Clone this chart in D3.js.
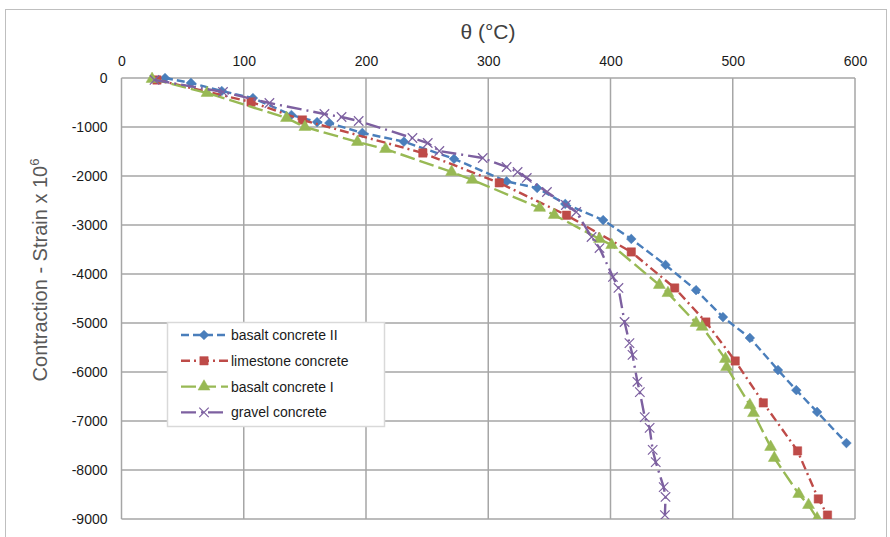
<!DOCTYPE html>
<html>
<head>
<meta charset="utf-8">
<script src="https://cdn.jsdelivr.net/npm/d3@7"></script>
<style>
  body { margin: 0; background: #fff; }
  svg { font-family: "Liberation Sans", Arial, sans-serif; }
</style>
</head>
<body>
<div id="chart"></div>
<script>
// values (temperature °C, strain x 10^6)
var basalt2 = [[35.6,0],[56.8,-100],[82,-265],[107.5,-410],[139,-755],[160,-900],[170,-920],[197,-1120],
  [231,-1300],[272,-1650],[315,-2110],[340,-2245],[363,-2570],[394,-2900],[417,-3285],[445,-3815],
  [470,-4330],[492,-4880],[514,-5305],[537,-5960],[552,-6370],[569,-6815],[593,-7450]];
var limestone = [[29,-40],[106,-490],[148,-857],[246.5,-1530],[309,-2140],[364,-2800],[417,-3550],
  [452.5,-4285],[478,-4980],[502,-5775],[525,-6630],[553,-7610],[570,-8590],[577.5,-8920]];
var basalt1 = [[25,-20],[70,-306],[135,-816],[150,-1000],[193,-1306],[216,-1450],[270,-1918],[287,-2080],
  [342,-2650],[354,-2795],[391,-3285],[401,-3410],[440,-4225],[447,-4390],[470,-5000],[475,-5080],
  [494,-5735],[495,-5900],[514,-6675],[517,-6840],[531,-7530],[534,-7755],[554,-8490],[562,-8715],[569,-8990]];
var gravel = [[27,-40],[83,-285],[121,-510],[166,-735],[180,-796],[194,-878],[238,-1225],[250.5,-1327],
  [260,-1490],[295.5,-1633],[315,-1816],[324,-1918],[331.5,-2040],[348,-2327],[363.5,-2592],[372,-2735],
  [384.5,-3245],[391,-3470],[402,-4060],[406.5,-4285],[411.5,-4980],[415.5,-5410],[418,-5650],[422,-6200],
  [424,-6410],[428,-6920],[432,-7140],[434.5,-7590],[437,-7840],[443.5,-8350],[445,-8550],[444.5,-8920]];

var xTicks = [0, 100, 200, 300, 400, 500, 600];
var yTicks = [0, -1000, -2000, -3000, -4000, -5000, -6000, -7000, -8000, -9000];

var series = [
  {name: "basalt concrete II", data: basalt2, color: "#4a7ebb", dash: "8,4", marker: "diamond"},
  {name: "limestone concrete", data: limestone, color: "#be4b48", dash: "9,4,2,4", marker: "square"},
  {name: "basalt concrete I", data: basalt1, color: "#98b954", dash: "15,5", marker: "triangle"},
  {name: "gravel concrete", data: gravel, color: "#7d60a0", dash: "15,5,2,5", marker: "cross"}
];

var width = 890, height = 537;
var plotLeft = 121.5, plotRight = 855, plotTop = 78, plotBottom = 519;

var svg = d3.select("#chart").append("svg")
    .attr("width", width)
    .attr("height", height);

// outer chart frame
svg.append("rect")
    .attr("x", 5.5).attr("y", 9.5)
    .attr("width", 881).attr("height", 540)
    .attr("fill", "none").attr("stroke", "#bfbfbf").attr("stroke-width", 1);

var x = d3.scaleLinear().domain([0, 600]).range([plotLeft, plotRight]);
var y = d3.scaleLinear().domain([-9000, 0]).range([plotBottom, plotTop]);

// gridlines
var grid = svg.append("g").attr("stroke", "#a6a6a6").attr("stroke-width", 1.5);
grid.selectAll("line.v").data(xTicks).enter().append("line")
    .attr("x1", function(d) { return x(d); }).attr("x2", function(d) { return x(d); })
    .attr("y1", plotTop).attr("y2", plotBottom);
grid.selectAll("line.h").data(yTicks).enter().append("line")
    .attr("y1", function(d) { return y(d); }).attr("y2", function(d) { return y(d); })
    .attr("x1", plotLeft).attr("x2", plotRight);

// plain hyphen minus like the original, not the unicode one
var fmt = function(d) { return String(d); };

// axes (labels only, the grid does the lines)
var xAxis = svg.append("g")
    .attr("transform", "translate(0," + (plotTop - 12) + ")")
    .call(d3.axisTop(x).tickValues(xTicks).tickSize(0).tickPadding(0).tickFormat(fmt));
var yAxis = svg.append("g")
    .attr("transform", "translate(" + (plotLeft - 14) + ",0)")
    .call(d3.axisLeft(y).tickValues(yTicks).tickSize(0).tickPadding(0).tickFormat(fmt));
[xAxis, yAxis].forEach(function(a) {
  a.select(".domain").remove();
  a.selectAll("text").attr("font-size", 14).attr("fill", "#1a1a1a")
    .attr("font-family", "Liberation Sans, Arial, sans-serif");
});

svg.append("text")
    .attr("x", 488).attr("y", 39)
    .attr("text-anchor", "middle")
    .attr("font-size", 21).attr("fill", "#404040")
    .text("θ (°C)");

var yTitle = svg.append("text")
    .attr("transform", "translate(47," + 270 + ") rotate(-90)")
    .attr("text-anchor", "middle")
    .attr("font-size", 20).attr("fill", "#595959");
yTitle.append("tspan").text("Contraction - Strain x 10");
yTitle.append("tspan").attr("dy", -8).attr("font-size", 13).text("6");

function markerPath(type) {
  if (type == "diamond") return d3.symbol().type(d3.symbolDiamond2).size(60)();
  if (type == "square") return d3.symbol().type(d3.symbolSquare).size(70)();
  if (type == "triangle") return d3.symbol().type(d3.symbolTriangle).size(62)();
  return d3.symbol().type(d3.symbolTimes).size(60)();
}

function drawMarker(g, s) {
  if (s.marker == "cross") {
    g.attr("fill", "none").attr("stroke", s.color).attr("stroke-width", 1.2);
  } else {
    g.attr("fill", s.color).attr("stroke", s.color).attr("stroke-width", 0.5);
  }
  g.attr("d", markerPath(s.marker));
}

var line = d3.line()
    .x(function(d) { return x(d[0]); })
    .y(function(d) { return y(d[1]); });

svg.append("clipPath").attr("id", "plot")
  .append("rect").attr("x", plotLeft - 10).attr("y", plotTop - 10)
  .attr("width", plotRight - plotLeft + 20).attr("height", plotBottom - plotTop + 10);

var plot = svg.append("g").attr("clip-path", "url(#plot)");

series.forEach(function(s) {
  var g = plot.append("g");
  g.append("path")
      .datum(s.data)
      .attr("d", line)
      .attr("fill", "none")
      .attr("stroke", s.color)
      .attr("stroke-width", 2.4)
      .attr("stroke-dasharray", s.dash);
  g.selectAll("path.m").data(s.data).enter().append("path")
      .attr("class", "m")
      .attr("transform", function(d) { return "translate(" + x(d[0]) + "," + y(d[1]) + ")"; })
      .call(drawMarker, s);
});

// legend
var legend = svg.append("g");
legend.append("rect")
    .attr("x", 167.5).attr("y", 322.5)
    .attr("width", 217).attr("height", 104)
    .attr("fill", "#fff").attr("stroke", "#d9d9d9").attr("stroke-width", 1.5);

series.forEach(function(s, i) {
  var ly = 335 + i * 25.8;
  var item = legend.append("g");
  item.append("line")
      .attr("x1", 181).attr("x2", 228)
      .attr("y1", ly).attr("y2", ly)
      .attr("stroke", s.color).attr("stroke-width", 2.4)
      .attr("stroke-dasharray", s.dash);
  item.append("path")
      .attr("transform", "translate(204," + ly + ")")
      .call(drawMarker, s);
  item.append("text")
      .attr("x", 231).attr("y", ly + 5)
      .attr("font-size", 14).attr("fill", "#1a1a1a")
      .text(s.name);
});
</script>
</body>
</html>
